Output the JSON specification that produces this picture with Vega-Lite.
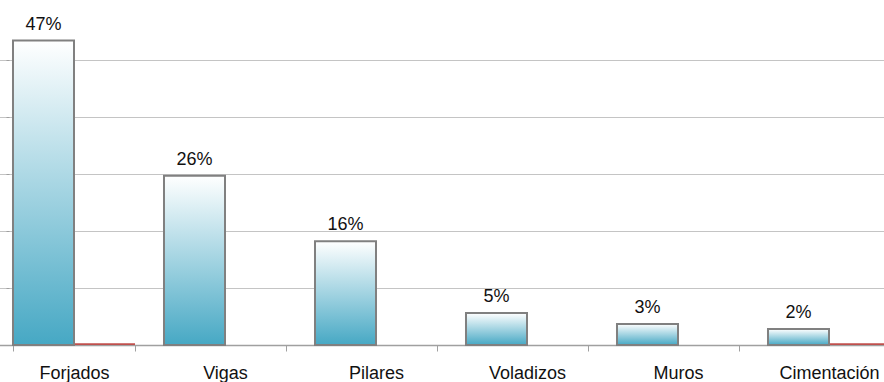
{
  "$schema": "https://vega.github.io/schema/vega-lite/v6.json",
  "autosize": {"type": "none"},
  "width": 875,
  "height": 342,
  "padding": {"left": 9, "top": 3, "right": 0, "bottom": 37},
  "background": "white",
  "config": {"view": {"stroke": null}, "font": "Liberation Sans"},
  "data": {
    "values": [
      {"categoria": "Forjados", "serie": "A", "valor": 53.4, "etiqueta": "47%"},
      {"categoria": "Vigas", "serie": "A", "valor": 29.7, "etiqueta": "26%"},
      {"categoria": "Pilares", "serie": "A", "valor": 18.2, "etiqueta": "16%"},
      {"categoria": "Voladizos", "serie": "A", "valor": 5.6, "etiqueta": "5%"},
      {"categoria": "Muros", "serie": "A", "valor": 3.7, "etiqueta": "3%"},
      {"categoria": "Cimentación", "serie": "A", "valor": 2.8, "etiqueta": "2%"},
      {"categoria": "Forjados", "serie": "B", "valor": 0.3, "etiqueta": ""},
      {"categoria": "Cimentación", "serie": "B", "valor": 0.3, "etiqueta": ""}
    ]
  },
  "encoding": {
    "x": {
      "field": "categoria",
      "type": "nominal",
      "sort": ["Forjados", "Vigas", "Pilares", "Voladizos", "Muros", "Cimentación"],
      "title": null,
      "scale": {"range": [-10.5, 895.5], "paddingInner": 0.192, "paddingOuter": 0.096},
      "axis": {
        "labelAngle": 0,
        "labelFontSize": 18,
        "labelColor": "#111111",
        "labelPadding": 13,
        "tickBand": "extent",
        "tickSize": 6,
        "tickColor": "#a0a0a0",
        "domainColor": "#a0a0a0",
        "domainWidth": 1.5,
        "grid": false
      }
    },
    "xOffset": {"field": "serie", "type": "nominal", "scale": {"domain": ["A", "B"], "paddingInner": 0, "paddingOuter": 0}},
    "y": {
      "field": "valor",
      "type": "quantitative",
      "title": null,
      "scale": {"domain": [0, 60], "nice": false},
      "axis": {
        "values": [0, 10, 20, 30, 40, 50],
        "labels": false,
        "domain": false,
        "tickSize": 3,
        "tickColor": "#a0a0a0",
        "gridColor": "#c4c4c4",
        "grid": true
      }
    }
  },
  "layer": [
    {
      "transform": [{"filter": "datum.serie === 'B'"}],
      "mark": {"type": "bar", "color": "#C0504D", "stroke": null}
    },
    {
      "transform": [{"filter": "datum.serie === 'A'"}],
      "mark": {
        "type": "bar",
        "stroke": "#808080",
        "strokeWidth": 2,
        "fill": {
          "gradient": "linear",
          "x1": 0, "y1": 0, "x2": 0, "y2": 1,
          "stops": [
            {"offset": 0, "color": "#ffffff"},
            {"offset": 1, "color": "#46a8c4"}
          ]
        }
      }
    },
    {
      "transform": [{"filter": "datum.serie === 'A'"}],
      "mark": {"type": "text", "fontSize": 18, "color": "#111111", "baseline": "alphabetic", "dy": -11},
      "encoding": {"text": {"field": "etiqueta"}}
    }
  ]
}
